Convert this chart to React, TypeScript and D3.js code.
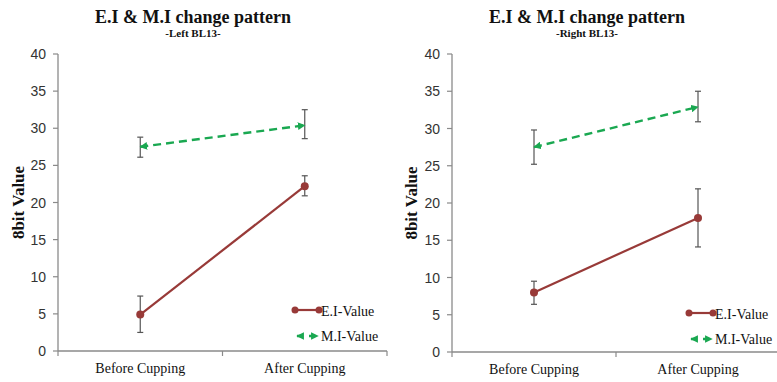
import React from "react";
import * as d3 from "d3";

const categories = ["Before Cupping", "After Cupping"];
const yTicks = [0, 5, 10, 15, 20, 25, 30, 35, 40];

const leftEI = [4.9, 22.2];
const leftEIErrLow = [2.5, 20.9];
const leftEIErrHigh = [7.4, 23.6];
const leftMI = [27.5, 30.4];
const leftMIErrLow = [26.1, 28.6];
const leftMIErrHigh = [28.8, 32.5];

const rightEI = [8.0, 18.0];
const rightEIErrLow = [6.4, 14.1];
const rightEIErrHigh = [9.5, 21.9];
const rightMI = [27.5, 32.9];
const rightMIErrLow = [25.2, 30.9];
const rightMIErrHigh = [29.8, 35.0];

const EI_COLOR = "#983a38";
const MI_COLOR = "#1aa851";
const AXIS_COLOR = "#8a8a8a";
const ERR_COLOR = "#555555";

type PanelProps = {
  id: string;
  x0: number;
  x1: number;
  yTop: number;
  yBottom: number;
  titleX: number;
  subtitle: string;
  ylabelX: number;
  legendX: number;
  legendY: number;
  ei: number[];
  eiLo: number[];
  eiHi: number[];
  mi: number[];
  miLo: number[];
  miHi: number[];
};

function Panel(p: PanelProps) {
  const x = d3.scaleBand<string>().domain(categories).range([p.x0, p.x1]);
  const y = d3.scaleLinear().domain([0, 40]).range([p.yBottom, p.yTop]);
  const cx = (i: number) => (x(categories[i]) as number) + x.bandwidth() / 2;
  const lineGen = d3
    .line<number>()
    .x((_, i) => cx(i))
    .y((d) => y(d));
  const serif = "'Liberation Serif', 'Times New Roman', serif";
  const sans = "'Liberation Sans', Arial, sans-serif";
  const arrowId = `arrow-${p.id}`;
  const errBar = (i: number, lo: number, hi: number, key: string) => (
    <g key={key} stroke={ERR_COLOR} strokeWidth={1.2}>
      <line x1={cx(i)} x2={cx(i)} y1={y(lo)} y2={y(hi)} />
      <line x1={cx(i) - 3} x2={cx(i) + 3} y1={y(lo)} y2={y(lo)} />
      <line x1={cx(i) - 3} x2={cx(i) + 3} y1={y(hi)} y2={y(hi)} />
    </g>
  );
  return (
    <g>
      <defs>
        <marker
          id={arrowId}
          viewBox="0 0 10 10"
          refX="9"
          refY="5"
          markerWidth="3.2"
          markerHeight="3.2"
          orient="auto-start-reverse"
          markerUnits="strokeWidth"
        >
          <path d="M0,0 L10,5 L0,10 z" fill={MI_COLOR} />
        </marker>
      </defs>
      <text
        x={p.titleX}
        y={23}
        textAnchor="middle"
        fontFamily={serif}
        fontWeight="bold"
        fontSize={18}
        fill="#111"
      >
        E.I &amp; M.I change pattern
      </text>
      <text
        x={p.titleX}
        y={37}
        textAnchor="middle"
        fontFamily={serif}
        fontWeight="bold"
        fontSize={11}
        fill="#111"
      >
        {p.subtitle}
      </text>
      <text
        transform={`translate(${p.ylabelX},${(p.yTop + p.yBottom) / 2}) rotate(-90)`}
        textAnchor="middle"
        fontFamily={serif}
        fontWeight="bold"
        fontSize={17}
        fill="#111"
      >
        8bit Value
      </text>
      {/* y axis */}
      <line x1={p.x0} x2={p.x0} y1={p.yTop} y2={p.yBottom} stroke={AXIS_COLOR} strokeWidth={1.3} />
      {yTicks.map((t) => (
        <g key={t}>
          <line x1={p.x0 - 5} x2={p.x0} y1={y(t)} y2={y(t)} stroke={AXIS_COLOR} strokeWidth={1.2} />
          <text
            x={p.x0 - 12}
            y={y(t) + 5}
            textAnchor="end"
            fontFamily={sans}
            fontSize={14}
            fill="#333"
          >
            {t}
          </text>
        </g>
      ))}
      {/* x axis */}
      <line x1={p.x0} x2={p.x1} y1={p.yBottom} y2={p.yBottom} stroke={AXIS_COLOR} strokeWidth={1.3} />
      {[0, 1, 2].map((i) => {
        const tx = i < 2 ? (x(categories[i]) as number) : p.x1;
        return (
          <line key={i} x1={tx} x2={tx} y1={p.yBottom} y2={p.yBottom + 5} stroke={AXIS_COLOR} strokeWidth={1.2} />
        );
      })}
      {categories.map((c, i) => (
        <text
          key={c}
          x={cx(i)}
          y={p.yBottom + 22}
          textAnchor="middle"
          fontFamily={serif}
          fontSize={14}
          fill="#111"
        >
          {c}
        </text>
      ))}
      {/* error bars */}
      {p.mi.map((_, i) => errBar(i, p.miLo[i], p.miHi[i], `mi${i}`))}
      {p.ei.map((_, i) => errBar(i, p.eiLo[i], p.eiHi[i], `ei${i}`))}
      {/* EI line */}
      <path d={lineGen(p.ei) as string} fill="none" stroke={EI_COLOR} strokeWidth={2.2} />
      {p.ei.map((d, i) => (
        <circle key={i} cx={cx(i)} cy={y(d)} r={4} fill={EI_COLOR} />
      ))}
      {/* MI line */}
      <path
        d={lineGen(p.mi) as string}
        fill="none"
        stroke={MI_COLOR}
        strokeWidth={2.4}
        strokeDasharray="8,5"
        markerStart={`url(#${arrowId})`}
        markerEnd={`url(#${arrowId})`}
      />
      {/* legend */}
      <line x1={p.legendX} x2={p.legendX + 24} y1={p.legendY} y2={p.legendY} stroke={EI_COLOR} strokeWidth={2.2} />
      <circle cx={p.legendX} cy={p.legendY} r={3.5} fill={EI_COLOR} />
      <circle cx={p.legendX + 24} cy={p.legendY} r={3.5} fill={EI_COLOR} />
      <text x={p.legendX + 26} y={p.legendY + 6} fontFamily={serif} fontSize={14} fill="#111">
        E.I-Value
      </text>
      <path
        d={`M${p.legendX + 2},${p.legendY + 26} L${p.legendX + 23},${p.legendY + 26}`}
        stroke={MI_COLOR}
        strokeWidth={2.4}
        strokeDasharray="6,6"
        markerStart={`url(#${arrowId})`}
        markerEnd={`url(#${arrowId})`}
        fill="none"
      />
      <text x={p.legendX + 26} y={p.legendY + 31} fontFamily={serif} fontSize={14} fill="#111">
        M.I-Value
      </text>
    </g>
  );
}

export default function App() {
  return (
    <svg width={777} height={382} style={{ display: "block", position: "absolute", left: 0, top: 0, background: "#fff" }}>
      <rect width={777} height={382} fill="#fff" />
      <Panel
        id="l"
        x0={58}
        x1={387}
        yTop={54}
        yBottom={351}
        titleX={193}
        subtitle="-Left BL13-"
        ylabelX={24}
        legendX={295}
        legendY={310}
        ei={leftEI}
        eiLo={leftEIErrLow}
        eiHi={leftEIErrHigh}
        mi={leftMI}
        miLo={leftMIErrLow}
        miHi={leftMIErrHigh}
      />
      <Panel
        id="r"
        x0={452}
        x1={780}
        yTop={54}
        yBottom={352}
        titleX={587}
        subtitle="-Right BL13-"
        ylabelX={417}
        legendX={689}
        legendY={313}
        ei={rightEI}
        eiLo={rightEIErrLow}
        eiHi={rightEIErrHigh}
        mi={rightMI}
        miLo={rightMIErrLow}
        miHi={rightMIErrHigh}
      />
    </svg>
  );
}
